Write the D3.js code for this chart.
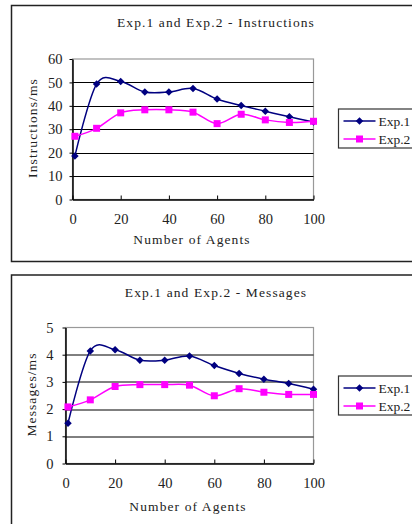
<!DOCTYPE html>
<html>
<head>
<meta charset="utf-8">
<script src="https://cdn.jsdelivr.net/npm/d3@7"></script>
<style>
  body { margin: 0; background: #fff; }
  svg { display: block; }
  text { font-family: "Liberation Serif", "DejaVu Serif", serif; fill: #222; }
</style>
</head>
<body>
<div id="chart"></div>
<script>
// values
const agents = [1, 10, 20, 30, 40, 50, 60, 70, 80, 90, 100];
const instrExp1 = [18.6, 49.3, 50.4, 45.9, 45.9, 47.4, 42.9, 40.1, 37.7, 35.3, 33.1];
const instrExp2 = [27.0, 30.4, 37.0, 38.3, 38.3, 37.3, 32.4, 36.4, 34.0, 32.9, 33.4];
const msgExp1 = [1.48, 4.14, 4.18, 3.80, 3.80, 3.95, 3.60, 3.31, 3.10, 2.94, 2.73];
const msgExp2 = [2.08, 2.34, 2.83, 2.90, 2.90, 2.88, 2.49, 2.75, 2.62, 2.54, 2.54];
const seriesNames = ["Exp.1", "Exp.2"];
const agentTicks = [0, 20, 40, 60, 80, 100];
const instrTicks = [0, 10, 20, 30, 40, 50, 60];
const msgTicks = [0, 1, 2, 3, 4, 5];

const W = 412, H = 524;
const colors = ["#000080", "#ff00ff"];

const svg = d3.select("#chart").append("svg")
  .attr("width", W)
  .attr("height", H);

svg.append("rect").attr("width", W).attr("height", H).attr("fill", "#fff");

function drawChart(opt) {
  const g = svg.append("g").attr("transform", `translate(0,${opt.top})`);

  // outer frame (runs off the right edge)
  g.append("rect")
    .attr("x", 11.5).attr("y", 0.5)
    .attr("width", 420).attr("height", opt.frameH)
    .attr("fill", "#fff")
    .attr("stroke", "#222").attr("stroke-width", 1.5);

  const x = d3.scaleLinear().domain([0, 100]).range([opt.left, 313.5]);
  const y = d3.scaleLinear().domain([0, d3.max(opt.yTicks)]).range([opt.bottom, opt.plotTop]);

  // plot area border
  g.append("rect")
    .attr("x", x(0)).attr("y", y.range()[1])
    .attr("width", x(100) - x(0)).attr("height", y.range()[0] - y.range()[1])
    .attr("fill", "none").attr("stroke", "#999").attr("stroke-width", 1.2);

  // gridlines
  g.append("g").selectAll("line")
    .data(opt.yTicks.slice(1, -1))
    .join("line")
    .attr("x1", x(0)).attr("x2", x(100))
    .attr("y1", d => Math.round(y(d)) + 0.5).attr("y2", d => Math.round(y(d)) + 0.5)
    .attr("stroke", "#000").attr("stroke-width", 1);

  const xAxis = d3.axisBottom(x).tickValues(agentTicks).tickSizeInner(-4).tickSizeOuter(0).tickPadding(14);
  const yAxis = d3.axisLeft(y).tickValues(opt.yTicks).tickFormat(d3.format("d"))
    .tickSizeInner(3).tickSizeOuter(0).tickPadding(opt.yPad);

  const gx = g.append("g")
    .attr("transform", `translate(0,${y.range()[0]})`)
    .call(xAxis);
  const gy = g.append("g")
    .attr("transform", `translate(${x(0)},0)`)
    .call(yAxis);

  [gx, gy].forEach(a => {
    a.select(".domain").attr("stroke", "#000").attr("stroke-width", 1.5);
    a.selectAll(".tick line").attr("stroke", "#000");
    a.selectAll(".tick text")
      .style("font-family", '"Liberation Serif", serif')
      .style("font-size", "14.5px")
      .attr("fill", "#222");
  });

  // title and axis titles
  g.append("text")
    .attr("x", 216).attr("y", opt.titleY)
    .attr("text-anchor", "middle")
    .style("font-size", "13.5px").style("letter-spacing", "1.1px")
    .text(opt.title);

  g.append("text")
    .attr("x", opt.xTitleX).attr("y", opt.xTitleY)
    .attr("text-anchor", "middle")
    .style("font-size", "13.5px").style("letter-spacing", "1.1px")
    .text("Number of Agents");

  g.append("text")
    .attr("transform", `translate(${opt.yTitleX},${opt.yTitleY}) rotate(-90)`)
    .attr("text-anchor", "middle")
    .style("font-size", "13.5px").style("letter-spacing", "1.1px")
    .text(opt.yTitle);

  const line = d3.line()
    .x((d, i) => x(agents[i]))
    .y(d => y(d))
    .curve(d3.curveCatmullRom.alpha(0));

  opt.series.forEach((vals, s) => {
    g.append("path")
      .datum(vals)
      .attr("d", line)
      .attr("fill", "none")
      .attr("stroke", colors[s])
      .attr("stroke-width", 1.5);
  });

  // markers: diamonds for Exp.1, squares for Exp.2
  const diamond = d3.symbol().type(d3.symbolDiamond2).size(36);
  const square = d3.symbol().type(d3.symbolSquare).size(49);
  opt.series.forEach((vals, s) => {
    g.append("g").selectAll("path")
      .data(vals)
      .join("path")
      .attr("transform", (d, i) => `translate(${x(agents[i])},${y(d)})`)
      .attr("d", s === 0 ? diamond() : square())
      .attr("fill", colors[s]);
  });

  // legend
  const lg = g.append("g").attr("transform", `translate(338.5,${opt.legendY})`);
  lg.append("rect")
    .attr("width", 100).attr("height", 39)
    .attr("fill", "#fff").attr("stroke", "#333").attr("stroke-width", 1.2);
  seriesNames.forEach((name, s) => {
    const row = lg.append("g").attr("transform", `translate(0,${12 + s * 18})`);
    row.append("line")
      .attr("x1", 5).attr("x2", 37)
      .attr("stroke", colors[s]).attr("stroke-width", 1.5);
    row.append("path")
      .attr("transform", "translate(21,0)")
      .attr("d", s === 0 ? diamond() : square())
      .attr("fill", colors[s]);
    row.append("text")
      .attr("x", 40).attr("dy", "0.35em")
      .style("font-size", "13.5px")
      .text(name);
  });
}

drawChart({
  top: 5, frameH: 256,
  left: 72.5, plotTop: 54, bottom: 194.5, yPad: 7,
  yTicks: instrTicks,
  series: [instrExp1, instrExp2],
  title: "Exp.1 and Exp.2 - Instructions",
  titleY: 22,
  yTitle: "Instructions/ms", yTitleX: 37, yTitleY: 123,
  xTitleX: 192, xTitleY: 239,
  legendY: 104
});

drawChart({
  top: 274.5, frameH: 260,
  left: 65.5, plotTop: 53, bottom: 189, yPad: 9,
  yTicks: msgTicks,
  series: [msgExp1, msgExp2],
  title: "Exp.1 and Exp.2 - Messages",
  titleY: 22,
  yTitle: "Messages/ms", yTitleX: 36, yTitleY: 120,
  xTitleX: 188, xTitleY: 236,
  legendY: 101.5
});
</script>
</body>
</html>
